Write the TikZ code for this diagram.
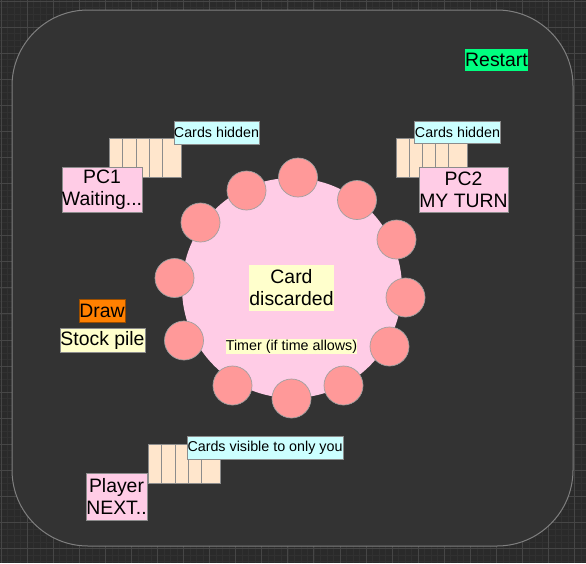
\documentclass[tikz,border=0pt]{standalone}
\usepackage{xcolor}
\usepackage{fontspec}
\setmainfont{Liberation Sans}
\usepackage{tikz}
\usetikzlibrary{calc}

\definecolor{canvas}{HTML}{2A2A2A}
\definecolor{gridminor}{HTML}{313131}
\definecolor{gridmajor}{HTML}{464646}
\definecolor{tablegray}{HTML}{333333}
\definecolor{tableline}{HTML}{7F7F7F}
\definecolor{cardpeach}{HTML}{FFE6CC}
\definecolor{cardline}{HTML}{8C8C8C}
\definecolor{labelcyan}{HTML}{CCFFFF}
\definecolor{boxpink}{HTML}{FFCCE6}
\definecolor{noteyellow}{HTML}{FFFFCC}
\definecolor{seatred}{HTML}{FF9999}
\definecolor{seatline}{HTML}{A0A0A0}
\definecolor{drawora}{HTML}{FF8000}
\definecolor{restartgreen}{HTML}{00FF80}
\definecolor{boxline}{HTML}{8C8C8C}

\tikzset{
  box/.style={draw=boxline, line width=.7pt, inner sep=0pt, align=center, text=black},
  bigtxt/.style={font=\fontsize{19.4}{22}\selectfont},
  smalltxt/.style={font=\fontsize{14.3}{16}\selectfont},
  card/.style={draw=cardline, line width=.9pt, fill=cardpeach, minimum width=19, minimum height=39, anchor=north west, inner sep=0pt},
  seat/.style={circle, draw=seatline, line width=.7pt, fill=seatred, minimum size=39, inner sep=0pt},
}

\begin{document}
\begin{tikzpicture}[x=1pt,y=-1pt]
\useasboundingbox (0,0) rectangle (586,563);
\fill[canvas] (0,0) rectangle (586,563);

\foreach \k [evaluate=\k as \xi using 1+6.5175*\k] in {0,...,90} {
  \draw[gridminor,line width=.5pt] (\xi,0)--++(0,563);
  \draw[gridminor,line width=.5pt] (0,\xi)--++(586,0);
}
\foreach \k [evaluate=\k as \xi using 1+26.07*\k] in {0,...,22} {
  \draw[gridmajor,line width=.8pt] (\xi,0)--++(0,563);
  \draw[gridmajor,line width=.8pt] (0,\xi)--++(586,0);
}

\draw[tableline,fill=tablegray,line width=1pt,rounded corners=76pt] (12,10) rectangle (573,546);

\node[box,bigtxt,fill=restartgreen,draw=none,minimum width=63,minimum height=22] (restart) at (496.5,60) {Restart};

\foreach \i in {0,...,4} {
  \node[card] (lcard\i) at ({109+13.25*\i},138) {};
  \node[card] (rcard\i) at ({396+13.1*\i},138) {};
  \node[card] (ycard\i) at ({148+13.25*\i},444) {};
}

\node[box,smalltxt,fill=labelcyan,minimum width=85,minimum height=23] (hidL) at (216.5,132.5) {Cards hidden};
\node[box,smalltxt,fill=labelcyan,minimum width=86,minimum height=22] (hidR) at (457.5,132) {Cards hidden};
\node[box,bigtxt,fill=boxpink,minimum width=80,minimum height=45] (pcone) at (102,189.5) {PC1\\Waiting...};
\node[box,bigtxt,fill=boxpink,minimum width=89,minimum height=45] (pctwo) at (463.5,189.5) {PC2\\MY TURN};

\node[box,bigtxt,fill=drawora,draw=drawora!60!black,minimum width=46,minimum height=23] (drawbtn) at (102,310.5) {Draw};
\node[box,bigtxt,fill=noteyellow,minimum width=85,minimum height=24] (stock) at (102.5,340) {Stock pile};

\node[circle,fill=boxpink,minimum size=220,inner sep=0pt] (table) at (292,288) {};
\foreach \x/\y [count=\n] in {298/177.5, 246.5/190.5, 357/200, 200.5/222.5, 396.5/239.5, 174.5/278,
    405.5/297.5, 184/340.5, 389.5/346.5, 232.5/385.5, 291.5/398.5, 343.5/385.5} {
  \node[seat] (seat\n) at (\x,\y) {};
}

\node[box,bigtxt,fill=noteyellow,draw=none,minimum width=85,minimum height=46] (discard) at (291.5,288) {Card\\discarded};
\node[box,smalltxt,fill=noteyellow,draw=none,minimum width=131,minimum height=15] (timer) at (291.5,346.5) {Timer (if time allows)};

\node[box,smalltxt,fill=labelcyan,minimum width=156,minimum height=23] (visible) at (265,447.5) {Cards visible to only you};
\node[box,bigtxt,fill=boxpink,minimum width=61,minimum height=47] (player) at (116.5,496.5) {Player\\NEXT..};
\end{tikzpicture}
\end{document}
